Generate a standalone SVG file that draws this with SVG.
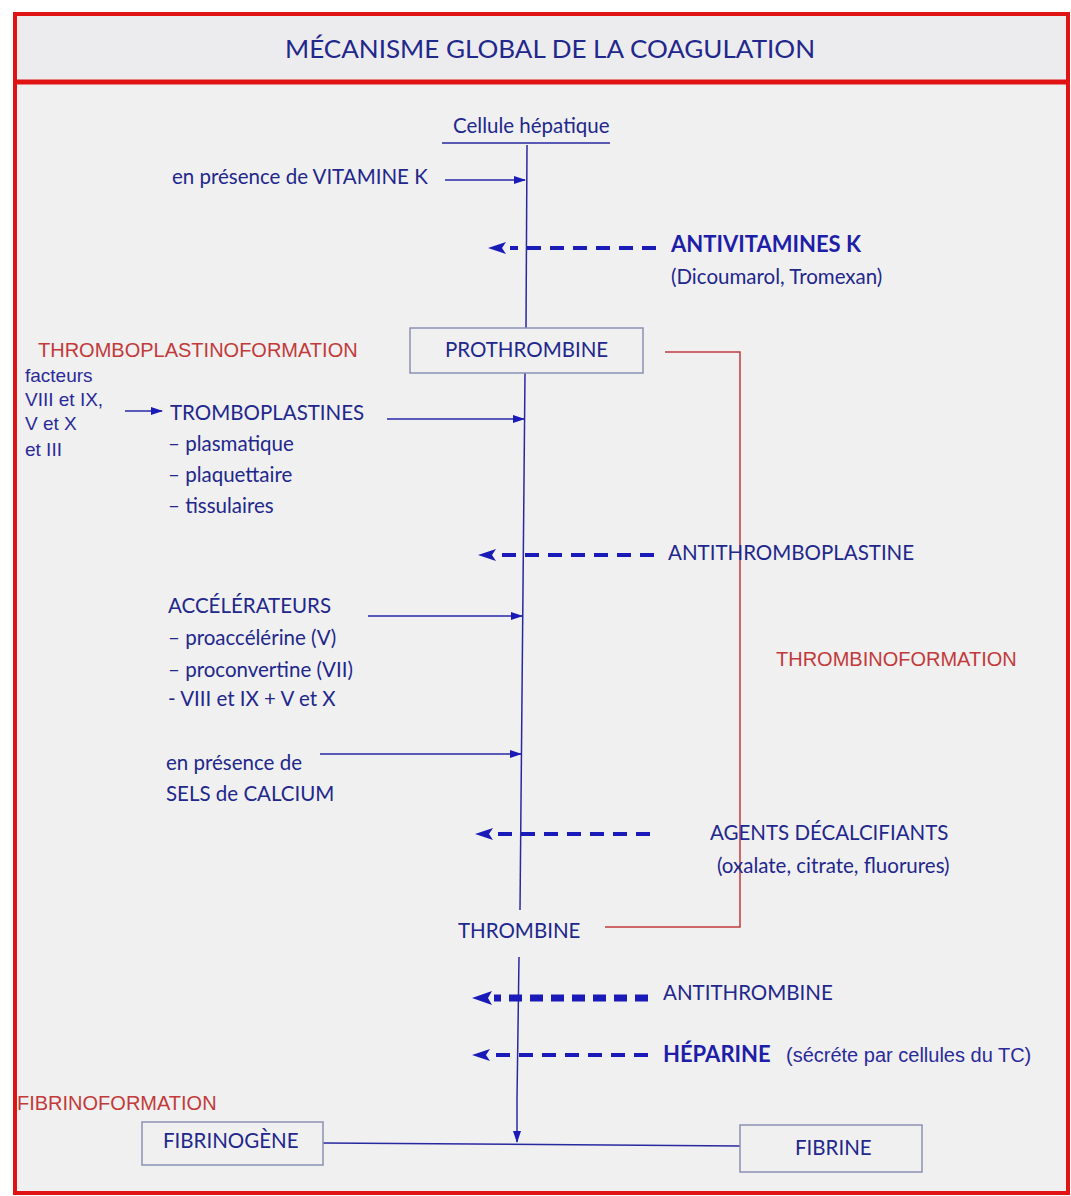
<svg xmlns="http://www.w3.org/2000/svg" width="1071" height="1196" viewBox="0 0 1071 1196">
<defs>
<marker id="ah" markerWidth="12" markerHeight="8" refX="11" refY="4" orient="auto" markerUnits="userSpaceOnUse">
<path d="M0,0 L12,4 L0,8 Z" fill="#1a1ab8"/>
</marker>
<marker id="ahd" markerWidth="18" markerHeight="12" refX="17" refY="6" orient="auto" markerUnits="userSpaceOnUse">
<path d="M0,0 L18,6 L0,12 L4,6 Z" fill="#1a1ab8"/>
</marker>
<style>
.b{font-family:Lato,"Open Sans","DejaVu Sans",sans-serif;fill:#22278c;font-size:20.5px}
.bb{font-family:Lato,"Open Sans","DejaVu Sans",sans-serif;fill:#1e1ea8;font-size:22px;font-weight:bold}
.r{font-family:"Liberation Sans",Arial,sans-serif;fill:#c23a3a;font-size:20px}
.a{font-family:"Liberation Sans",Arial,sans-serif;fill:#2a2a9a;font-size:19px}
.ln{stroke:#2828a0;stroke-width:1.5;fill:none}
.ar{stroke:#2828a8;stroke-width:1.5;fill:none;marker-end:url(#ah)}
.da{stroke:#1a1ab8;stroke-width:4;stroke-dasharray:14,9;fill:none}
.dt{stroke:#1a1ab8;stroke-width:7;stroke-dasharray:13,8;fill:none}
.hd{fill:#1a1ab8}
.rl{stroke:#c23a3a;stroke-width:1.5;fill:none}
.box{fill:none;stroke:#8a90b4;stroke-width:1.5}
</style>
</defs>
<rect x="0" y="0" width="1071" height="1196" fill="#ffffff"/>
<rect x="15" y="14" width="1053" height="1179" fill="#f0f0f0"/>
<rect x="15" y="14" width="1053" height="68" fill="#ececee"/>
<g id="frame" fill="none" stroke="#e01414">
<rect x="15" y="14" width="1053" height="1179" stroke-width="4"/>
<line x1="15" y1="82" x2="1068" y2="82" stroke-width="5"/>
</g>
<g id="title"><text x="550" y="58" text-anchor="middle" class="b" style="font-size:25px" textLength="530" lengthAdjust="spacingAndGlyphs">MÉCANISME GLOBAL DE LA COAGULATION</text></g>

<g id="connectors">
<line class="ln" x1="442" y1="143" x2="610" y2="143"/>
<line class="ln" x1="527" y1="145" x2="526" y2="328"/>
<line class="ln" x1="525" y1="373" x2="520" y2="910"/>
<line class="ln" x1="519" y1="957" x2="517" y2="1100"/>
<line class="ar" x1="517" y1="1100" x2="517" y2="1142"/>
<line class="ar" x1="445" y1="180" x2="525" y2="180"/>
<line class="da" x1="656" y1="248" x2="510" y2="248"/>
<path class="hd" d="M488,248 L506,242 L502,248 L506,254 Z"/>
<line class="ar" x1="125" y1="411" x2="162" y2="411"/>
<line class="ar" x1="387" y1="419" x2="524" y2="419"/>
<line class="da" x1="654" y1="555" x2="500" y2="555"/>
<path class="hd" d="M478,555 L496,549 L492,555 L496,561 Z"/>
<line class="ar" x1="368" y1="616" x2="522" y2="616"/>
<line class="ar" x1="320" y1="754" x2="521" y2="754"/>
<line class="da" x1="650" y1="834" x2="497" y2="834"/>
<path class="hd" d="M475,834 L493,828 L489,834 L493,840 Z"/>
<line class="dt" x1="648" y1="998" x2="494" y2="998"/>
<path class="hd" d="M472,998 L492,991 L488,998 L492,1005 Z"/>
<line class="da" x1="648" y1="1055" x2="494" y2="1055"/>
<path class="hd" d="M472,1055 L490,1049 L486,1055 L490,1061 Z"/>
<polyline class="rl" points="665,352 740,352 740,927 605,927"/>
<line class="ln" x1="323" y1="1143" x2="740" y2="1146"/>
</g>

<g id="n-cellule"><text class="b" x="453" y="133">Cellule hépatique</text></g>
<g id="n-vitk"><text class="b" x="172" y="184">en présence de VITAMINE K</text></g>
<g id="n-avk">
<text class="bb" x="671" y="252">ANTIVITAMINES K</text>
<text class="b" x="671" y="284">(Dicoumarol, Tromexan)</text>
</g>
<g id="n-prothrombine">
<rect class="box" x="410" y="328" width="233" height="45"/>
<text class="b" x="445" y="357">PROTHROMBINE</text>
</g>
<g id="n-thromboplastinoformation"><text class="r" x="38" y="357">THROMBOPLASTINOFORMATION</text></g>
<g id="n-facteurs">
<text class="a" x="25" y="382">facteurs</text>
<text class="a" x="25" y="406">VIII et IX,</text>
<text class="a" x="25" y="430">V et X</text>
<text class="a" x="25" y="456">et III</text>
</g>
<g id="n-tromboplastines">
<text class="b" x="170" y="420">TROMBOPLASTINES</text>
<text class="b" x="168" y="451">– plasmatique</text>
<text class="b" x="168" y="482">– plaquettaire</text>
<text class="b" x="168" y="513">– tissulaires</text>
</g>
<g id="n-antithromboplastine"><text class="b" x="668" y="560">ANTITHROMBOPLASTINE</text></g>
<g id="n-accelerateurs">
<text class="b" x="168" y="613">ACCÉLÉRATEURS</text>
<text class="b" x="168" y="645">– proaccélérine (V)</text>
<text class="b" x="168" y="677">– proconvertine (VII)</text>
<text class="b" x="168" y="706">- VIII et IX + V et X</text>
</g>
<g id="n-thrombinoformation"><text class="r" x="776" y="666">THROMBINOFORMATION</text></g>
<g id="n-calcium">
<text class="b" x="166" y="770">en présence de</text>
<text class="b" x="166" y="801">SELS de CALCIUM</text>
</g>
<g id="n-decalcifiants">
<text class="b" x="710" y="840">AGENTS DÉCALCIFIANTS</text>
<text class="b" x="717" y="873">(oxalate, citrate, fluorures)</text>
</g>
<g id="n-thrombine"><text class="b" x="458" y="938">THROMBINE</text></g>
<g id="n-antithrombine"><text class="b" x="663" y="1000">ANTITHROMBINE</text></g>
<g id="n-heparine">
<text class="bb" x="663" y="1062">HÉPARINE</text>
<text class="a" x="786" y="1062" style="font-size:20px">(sécréte par cellules du TC)</text>
</g>
<g id="n-fibrinoformation"><text class="r" x="17" y="1110">FIBRINOFORMATION</text></g>
<g id="n-fibrinogene">
<rect class="box" x="142" y="1122" width="181" height="43"/>
<text class="b" x="163" y="1148">FIBRINOGÈNE</text>
</g>
<g id="n-fibrine">
<rect class="box" x="740" y="1125" width="182" height="47"/>
<text class="b" x="795" y="1155">FIBRINE</text>
</g>
</svg>
